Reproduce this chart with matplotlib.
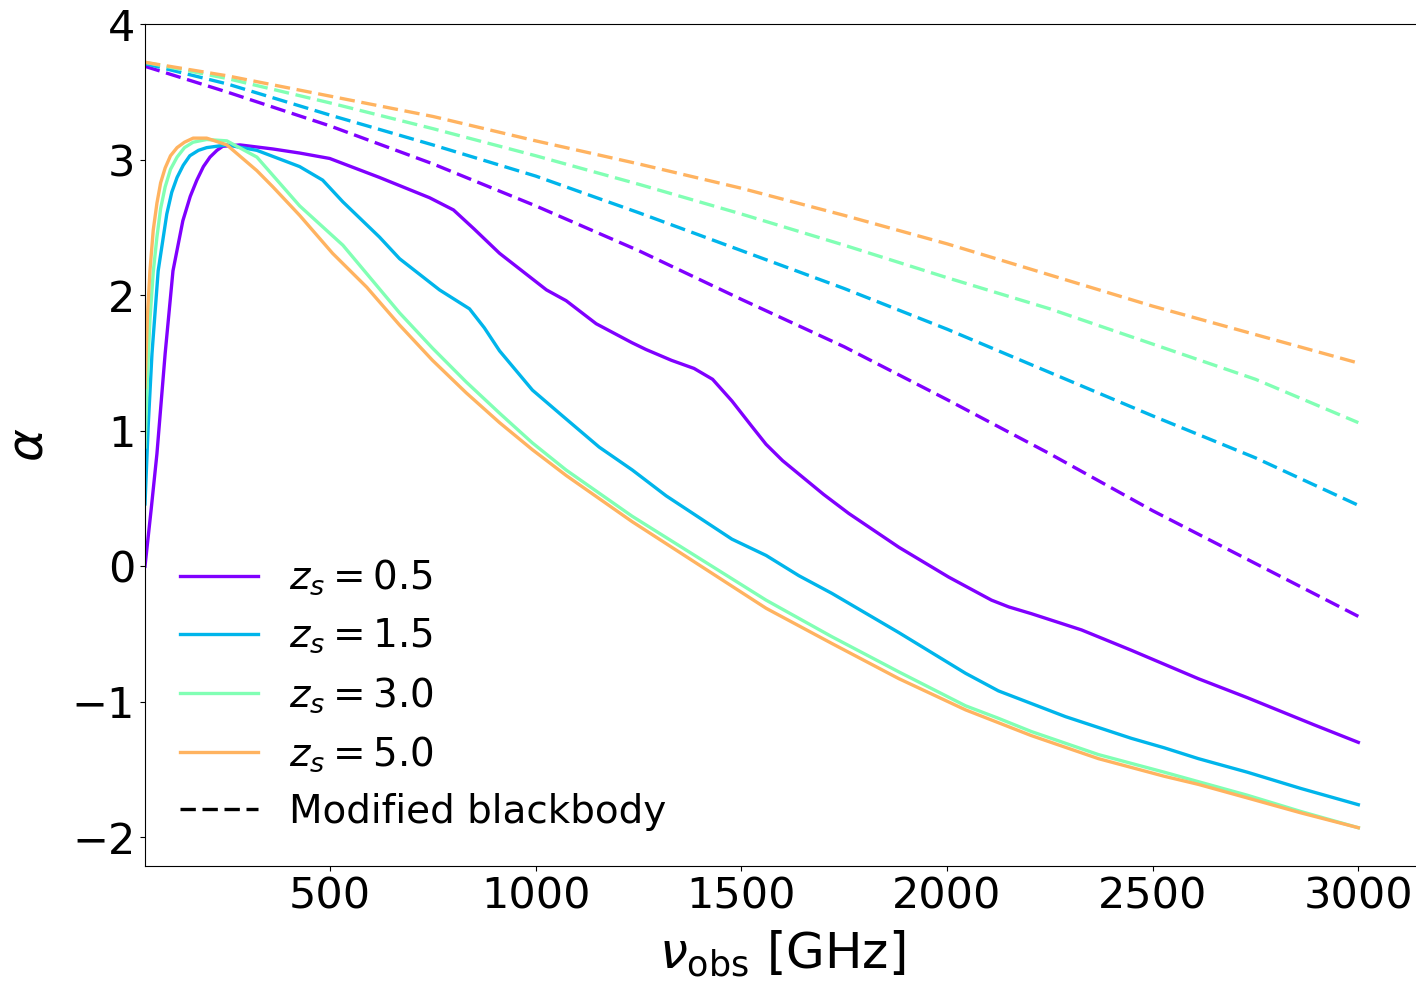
import matplotlib
matplotlib.use("Agg")
import matplotlib.pyplot as plt

# redshifts of the sources
z_labels = ["0.5", "1.5", "3.0", "5.0"]

nu_z05 = [50, 65, 79, 99, 118, 142, 160, 176, 192, 208, 225, 239, 281, 361, 426, 499,
          620, 742, 800, 850, 912, 1026, 1074, 1147, 1234, 1268, 1330, 1385, 1430,
          1477, 1526, 1560, 1600, 1640, 1700, 1761, 1883, 2004, 2108, 2150, 2205,
          2327, 2448, 2611, 2730, 2892, 3000]
alpha_z05 = [0.0, 0.42, 0.83, 1.57, 2.18, 2.55, 2.73, 2.85, 2.95, 3.02, 3.07, 3.10,
             3.11, 3.08, 3.05, 3.01, 2.87, 2.72, 2.63, 2.49, 2.31, 2.04, 1.96, 1.79,
             1.65, 1.60, 1.52, 1.46, 1.38, 1.22, 1.03, 0.90, 0.78, 0.68, 0.53, 0.39,
             0.14, -0.08, -0.25, -0.30, -0.35, -0.47, -0.62, -0.83, -0.97, -1.17,
             -1.30]

nu_z15 = [50, 58, 67, 82, 103, 115, 128, 143, 159, 180, 200, 249, 322, 426, 482, 531,
          620, 669, 766, 839, 875, 912, 992, 1065, 1154, 1235, 1317, 1397, 1477,
          1560, 1640, 1720, 1883, 2045, 2125, 2288, 2448, 2528, 2611, 2730, 2860,
          3000]
alpha_z15 = [0.46, 1.05, 1.57, 2.18, 2.60, 2.76, 2.87, 2.96, 3.03, 3.07, 3.09, 3.11,
             3.07, 2.95, 2.85, 2.69, 2.43, 2.27, 2.04, 1.90, 1.76, 1.59, 1.30, 1.11,
             0.88, 0.71, 0.52, 0.36, 0.20, 0.08, -0.07, -0.20, -0.49, -0.79, -0.92,
             -1.11, -1.27, -1.34, -1.42, -1.52, -1.64, -1.76]

nu_z30 = [50, 56, 62, 70, 79, 88, 99, 112, 128, 146, 167, 200, 249, 322, 426, 531,
          589, 669, 749, 831, 912, 992, 1074, 1154, 1234, 1397, 1560, 1720, 1883,
          2045, 2123, 2205, 2368, 2528, 2611, 2730, 2860, 3000]
alpha_z30 = [0.88, 1.40, 1.82, 2.17, 2.43, 2.64, 2.80, 2.93, 3.02, 3.09, 3.13, 3.15,
             3.14, 3.02, 2.66, 2.37, 2.16, 1.87, 1.61, 1.36, 1.13, 0.91, 0.71, 0.54,
             0.37, 0.06, -0.25, -0.52, -0.78, -1.03, -1.12, -1.22, -1.39, -1.52,
             -1.59, -1.69, -1.81, -1.93]

nu_z50 = [50, 56, 62, 70, 79, 88, 99, 112, 128, 146, 167, 200, 249, 322, 361, 426,
          506, 589, 669, 749, 831, 912, 992, 1074, 1154, 1234, 1397, 1560, 1720,
          1883, 2045, 2205, 2368, 2528, 2611, 2730, 2860, 3000]
alpha_z50 = [1.32, 1.85, 2.18, 2.48, 2.68, 2.83, 2.94, 3.03, 3.09, 3.13, 3.16, 3.16,
             3.11, 2.92, 2.80, 2.59, 2.31, 2.06, 1.78, 1.52, 1.28, 1.06, 0.86, 0.67,
             0.50, 0.33, 0.01, -0.31, -0.57, -0.83, -1.06, -1.25, -1.42, -1.55,
             -1.61, -1.71, -1.82, -1.93]

# modified blackbody spectral index
nu_mbb = [50, 250, 500, 750, 1000, 1250, 1500, 1750, 2000, 2250, 2500, 2750, 3000]
mbb_z05 = [3.69, 3.50, 3.25, 2.97, 2.66, 2.33, 1.97, 1.62, 1.23, 0.83, 0.41, 0.02, -0.37]
mbb_z15 = [3.71, 3.56, 3.33, 3.11, 2.88, 2.61, 2.33, 2.05, 1.75, 1.43, 1.11, 0.80, 0.45]
mbb_z30 = [3.72, 3.60, 3.42, 3.23, 3.03, 2.82, 2.60, 2.37, 2.13, 1.90, 1.64, 1.38, 1.06]
mbb_z50 = [3.72, 3.62, 3.47, 3.32, 3.14, 2.97, 2.79, 2.59, 2.38, 2.15, 1.92, 1.71, 1.50]

nu_list = [nu_z05, nu_z15, nu_z30, nu_z50]
alpha_list = [alpha_z05, alpha_z15, alpha_z30, alpha_z50]
mbb_list = [mbb_z05, mbb_z15, mbb_z30, mbb_z50]

colors = [plt.cm.rainbow(i / 4) for i in range(4)]

fig = plt.figure(figsize=(14.16, 9.83), dpi=100)
ax = fig.add_axes([145 / 1416, 117 / 983, 1274 / 1416, 842 / 983])

for nu, alpha, mbb, c, lab in zip(nu_list, alpha_list, mbb_list, colors, z_labels):
    ax.plot(nu, alpha, color=c, lw=2.4, label=r"$z_s = %s$" % lab)
    ax.plot(nu_mbb, mbb, color=c, lw=2.4, ls="--", dashes=(4.6, 2.0))

ax.plot([], [], color="k", lw=2.4, ls="--", dashes=(4.6, 2.0), label="Modified blackbody")

ax.set_xlim(left=50)
ax.set_xlabel(r"$\nu_{\rm obs}$ [GHz]", fontsize=36, labelpad=8)
ax.set_ylabel(r"$\alpha$", fontsize=36, labelpad=14)
ax.tick_params(labelsize=31)
ax.legend(loc="lower left", fontsize=28, frameon=False)

fig.savefig("out.png", dpi=100)
